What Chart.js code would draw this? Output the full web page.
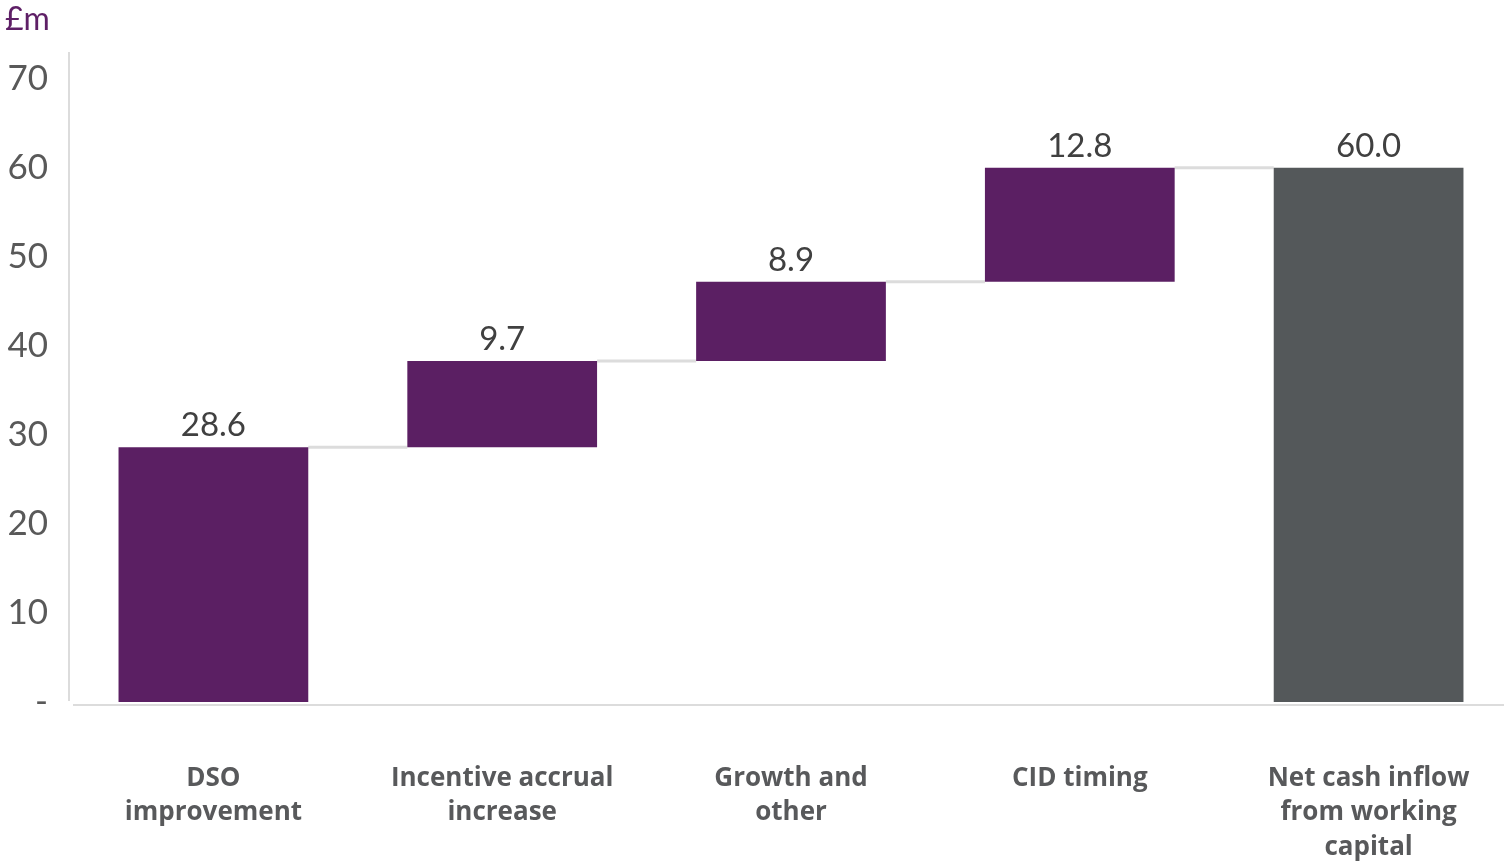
<!DOCTYPE html>
<html>
<head>
<meta charset="utf-8">
<script src="https://cdn.jsdelivr.net/npm/chart.js@4.4.1/dist/chart.umd.min.js"></script>
<style>
  html, body { margin: 0; padding: 0; background: #fff; overflow: hidden; }
  #wrap { width: 1514px; height: 861px; position: relative; margin-left: -1px; }
</style>
</head>
<body>
<div id="wrap"><canvas id="chart"></canvas></div>
<script>
// Data
const categories = [
    ['DSO', 'improvement'],
    ['Incentive accrual', 'increase'],
    ['Growth and', 'other'],
    ['CID timing'],
    ['Net cash inflow', 'from working', 'capital']
];
const barStarts = [0, 28.6, 38.3, 47.2, 0];
const barEnds = [28.6, 38.3, 47.2, 60.0, 60.0];
const valueLabels = ['28.6', '9.7', '8.9', '12.8', '60.0'];
const yTicks = [0, 10, 20, 30, 40, 50, 60, 70];

// Colours
const PURPLE = '#5b1f63';
const GREY_BAR = '#54585a';
const AXIS_LINE = '#dcdcdc';

const barColors = categories.map((c, i) => i === categories.length - 1 ? GREY_BAR : PURPLE);
const floating = barStarts.map((s, i) => [s, barEnds[i]]);

// Axis lines, connectors, value labels and unit label
const waterfallExtras = {
    id: 'waterfallExtras',
    beforeDatasetsDraw(chart) {
        const { ctx, chartArea, scales } = chart;
        const y = scales.y;
        ctx.save();
        ctx.strokeStyle = AXIS_LINE;
        ctx.lineWidth = 2;
        // y axis line
        ctx.beginPath();
        ctx.moveTo(chartArea.left, chartArea.top);
        ctx.lineTo(chartArea.left, y.getPixelForValue(0) - 1);
        ctx.stroke();
        // x axis line
        ctx.beginPath();
        ctx.moveTo(chartArea.left + 4, y.getPixelForValue(0) + 3);
        ctx.lineTo(chart.width, y.getPixelForValue(0) + 3);
        ctx.stroke();

        // connectors between bars
        const bars = chart.getDatasetMeta(0).data;
        ctx.lineWidth = 3;
        for (let i = 0; i < bars.length - 1; i++) {
            const yy = y.getPixelForValue(barEnds[i]);
            ctx.beginPath();
            ctx.moveTo(bars[i].x + bars[i].width / 2, yy);
            ctx.lineTo(bars[i + 1].x - bars[i + 1].width / 2, yy);
            ctx.stroke();
        }
        ctx.restore();
    },
    afterDatasetsDraw(chart) {
        const { ctx, scales } = chart;
        const bars = chart.getDatasetMeta(0).data;
        ctx.save();
        ctx.fillStyle = '#404040';
        ctx.font = '33px Lato, "DejaVu Sans", sans-serif';
        ctx.textAlign = 'center';
        ctx.textBaseline = 'alphabetic';
        bars.forEach((bar, i) => {
            const top = scales.y.getPixelForValue(Math.max(barStarts[i], barEnds[i]));
            ctx.fillText(valueLabels[i], bar.x, top - 11);
        });

        ctx.fillStyle = '#5e1f66';
        ctx.font = '32px Lato, "DejaVu Sans", sans-serif';
        ctx.textAlign = 'left';
        ctx.textBaseline = 'middle';
        ctx.fillText('£m', 6, 20);
        ctx.restore();
    }
};

new Chart(document.getElementById('chart'), {
    type: 'bar',
    data: {
        labels: categories,
        datasets: [{
            data: floating,
            backgroundColor: barColors,
            borderWidth: 0,
            barPercentage: 0.657,
            categoryPercentage: 1.0
        }]
    },
    options: {
        responsive: true,
        maintainAspectRatio: false,
        animation: false,
        layout: { padding: { top: 52, right: 0, left: 0, bottom: 0 } },
        plugins: {
            legend: { display: false },
            tooltip: { enabled: false }
        },
        scales: {
            x: {
                grid: { display: false, drawTicks: false },
                border: { display: false },
                ticks: {
                    color: '#58595b',
                    font: { family: '"Open Sans", Lato, sans-serif', size: 26, weight: 'bold', lineHeight: 1.31 },
                    padding: 60,
                    maxRotation: 0,
                    autoSkip: false
                },
                afterFit(scale) {
                    scale.height = 159;
                    scale.paddingLeft = 0;
                    scale.paddingRight = 0;
                }
            },
            y: {
                min: 0,
                max: 73,
                grid: { display: false, drawTicks: false },
                border: { display: false },
                afterBuildTicks(scale) {
                    scale.ticks = yTicks.map(v => ({ value: v }));
                },
                ticks: {
                    color: '#595959',
                    font: { family: 'Lato, "DejaVu Sans", sans-serif', size: 35 },
                    padding: 21,
                    callback: v => v === 0 ? '-' : v
                },
                afterFit(scale) { scale.width = 70; }
            }
        }
    },
    plugins: [waterfallExtras]
});
</script>
</body>
</html>
